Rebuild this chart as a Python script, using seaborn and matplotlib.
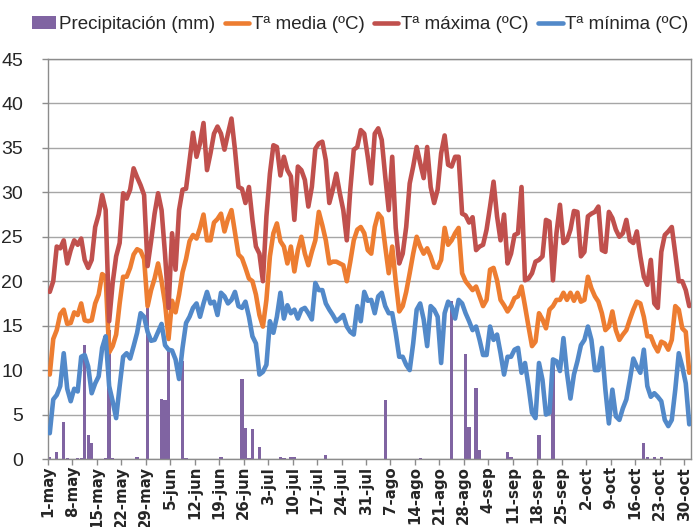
import numpy as np
import pandas as pd
import matplotlib
matplotlib.use("Agg")
import matplotlib.pyplot as plt
import seaborn as sns
from matplotlib.lines import Line2D
from matplotlib.patches import Patch

# ---------------- data (daily, 1-may .. 31-oct) ----------------
tick_labels = ["1-may", "8-may", "15-may", "22-may", "29-may", "5-jun", "12-jun",
               "19-jun", "26-jun", "3-jul", "10-jul", "17-jul", "24-jul", "31-jul",
               "7-ago", "14-ago", "21-ago", "28-ago", "4-sep", "11-sep", "18-sep",
               "25-sep", "2-oct", "9-oct", "16-oct", "23-oct", "30-oct"]

t_max = [
    18.8, 20.0, 23.9, 23.7, 24.6, 22.0, 23.5, 24.6, 24.1, 24.8,
    22.4, 21.5, 22.4, 26.1, 27.5, 29.7, 28.0, 15.5, 19.8, 22.8,
    24.3, 29.9, 29.3, 30.3, 32.7, 31.7, 30.8, 29.7, 21.7, 24.5,
    27.6, 29.9, 28.0, 23.0, 17.0, 25.4, 21.3, 28.0, 30.3, 30.4,
    33.6, 36.7, 34.0, 35.5, 37.8, 32.5, 34.4, 36.6, 37.4, 36.6,
    34.8, 36.6, 38.3, 34.8, 30.6, 30.4, 28.8, 30.6, 26.9, 23.9,
    23.1, 20.0, 27.3, 32.1, 35.3, 35.1, 31.9, 34.0, 32.5, 31.8,
    26.9, 32.9, 32.5, 31.4, 28.4, 30.6, 34.9, 35.5, 35.7, 33.6,
    28.8, 30.3, 32.1, 29.9, 28.0, 24.6, 30.3, 34.8, 35.1, 37.0,
    36.6, 34.0, 31.0, 36.6, 37.2, 35.9, 31.8, 28.0, 34.0, 26.0,
    22.0, 23.1, 26.1, 31.0, 32.9, 35.1, 33.3, 31.6, 35.1, 30.6,
    28.8, 30.3, 34.4, 36.4, 33.1, 32.9, 34.0, 34.0, 27.6, 27.4,
    26.6, 27.2, 23.5, 23.9, 24.1, 25.8, 28.4, 31.2, 27.3, 24.6,
    27.5, 22.0, 23.1, 25.2, 25.4, 30.6, 20.1, 20.3, 20.9, 22.2,
    22.4, 22.8, 26.9, 26.7, 20.1, 25.4, 28.6, 24.3, 24.6, 25.8,
    27.9, 27.8, 22.8, 23.3, 27.3, 27.6, 27.8, 28.4, 23.5, 23.3,
    27.8, 27.1, 25.8, 25.0, 25.4, 26.9, 24.6, 24.3, 25.6, 22.8,
    20.5, 19.6, 22.4, 17.5, 17.0, 23.3, 25.2, 25.6, 26.1, 23.1,
    20.0, 20.0, 19.0, 17.2]

t_media = [
    9.5, 13.5, 14.5, 16.3, 16.8, 15.2, 15.3, 16.5, 16.2, 17.5,
    15.6, 15.5, 15.6, 17.5, 18.5, 20.8, 20.5, 12.0, 12.7, 14.0,
    17.5, 20.5, 20.5, 21.5, 23.0, 23.6, 23.4, 22.5, 17.2, 19.0,
    20.3, 22.0, 20.0, 17.5, 13.5, 17.8, 16.5, 18.5, 21.0, 22.5,
    24.5, 25.2, 24.8, 26.0, 27.5, 24.6, 24.6, 26.6, 27.0, 27.6,
    25.6, 27.0, 28.0, 25.5, 23.0, 22.6, 21.5, 20.3, 20.0, 18.5,
    16.2, 14.9, 17.9, 22.8, 25.4, 26.5, 24.5, 23.9, 22.0, 23.9,
    21.1, 23.5, 25.0, 23.1, 21.8, 23.3, 24.6, 27.8, 26.3, 24.6,
    22.0, 22.2, 22.2, 22.0, 21.8, 20.0, 22.2, 24.6, 25.8, 26.1,
    25.4, 23.5, 23.1, 26.1, 27.6, 27.1, 23.9, 20.9, 23.9, 20.0,
    16.6, 17.2, 18.8, 20.9, 23.1, 25.0, 23.9, 23.1, 23.7, 22.8,
    21.6, 21.5, 22.4, 26.0, 24.1, 24.6, 25.4, 26.0, 20.9, 20.0,
    19.5, 19.0, 19.4, 18.3, 17.2, 17.9, 21.3, 21.5, 20.1, 17.9,
    17.3, 16.6, 17.2, 18.1, 18.3, 19.4, 17.2, 14.9, 12.7, 13.2,
    16.4, 15.7, 14.7, 16.8, 17.2, 17.9, 17.9, 18.7, 17.9, 18.7,
    17.8, 18.7, 17.7, 17.9, 20.5, 19.2, 18.3, 17.7, 16.4, 14.5,
    14.9, 16.6, 14.5, 13.4, 14.0, 14.5, 15.7, 16.8, 17.7, 17.5,
    16.0, 13.8, 13.8, 12.8, 12.1, 13.2, 13.0, 12.3, 13.4, 17.2,
    16.8, 14.7, 14.3, 9.7]

t_min = [
    2.9, 6.7, 7.2, 8.2, 11.9, 7.9, 6.5, 7.9, 7.6, 11.5,
    11.7, 10.4, 7.4, 8.5, 9.3, 12.5, 13.8, 8.2, 6.5, 4.6,
    8.2, 11.5, 11.9, 11.3, 12.7, 14.2, 16.4, 16.0, 14.3, 13.3,
    13.4, 14.3, 15.2, 12.8, 12.3, 12.2, 11.2, 9.0, 12.5, 15.3,
    16.0, 17.0, 17.5, 16.0, 17.5, 18.8, 17.5, 17.7, 16.2, 18.7,
    18.3, 17.5, 17.9, 18.8, 17.2, 17.0, 17.7, 16.0, 13.8, 13.0,
    9.5, 9.8, 10.6, 15.5, 14.2, 16.0, 18.7, 15.8, 17.3, 16.4,
    16.8, 15.8, 16.8, 17.0, 16.4, 15.7, 19.8, 19.0, 19.0, 17.5,
    16.8, 16.2, 15.5, 15.8, 16.2, 14.9, 14.3, 14.0, 17.2, 15.5,
    18.8, 17.8, 17.9, 16.4, 18.3, 18.7, 17.2, 16.4, 16.4, 14.2,
    11.5, 11.5, 10.6, 10.0, 13.0, 16.8, 17.5, 15.7, 12.7, 17.2,
    16.8, 16.0, 10.8, 16.4, 17.7, 17.2, 15.8, 17.9, 17.5, 16.4,
    15.5, 14.5, 14.9, 13.4, 11.7, 11.7, 14.9, 13.4, 14.0, 11.9,
    9.5, 11.5, 11.5, 12.3, 12.5, 9.7, 10.8, 8.2, 5.2, 4.6,
    10.8, 8.9, 5.0, 5.2, 11.2, 11.0, 9.9, 13.6, 9.7, 6.8,
    9.5, 11.0, 12.8, 13.4, 14.9, 13.4, 10.0, 10.0, 12.5, 7.8,
    4.0, 7.8, 4.8, 4.4, 5.7, 6.7, 8.9, 11.3, 10.4, 9.7,
    12.3, 8.2, 7.0, 7.4, 7.0, 6.5, 4.4, 3.7, 4.4, 7.8,
    11.9, 10.4, 8.5, 3.9]

# rainy days (day index from 1-may) and amount in mm
precip_days = [0, 2, 4, 5, 8, 9, 10, 11, 12, 16,
               17, 18, 25, 28, 32, 33, 34, 38, 39, 49,
               55, 56, 57, 58, 60, 66, 67, 69, 70, 79,
               96, 106, 115, 119, 120, 122, 123, 131, 132, 140,
               144, 170, 171, 173, 175]
precip_mm = [0.2, 0.8, 4.2, 0.1, 0.1, 0.1, 12.8, 2.7, 1.8, 0.1,
             14.5, 0.1, 0.2, 17.0, 6.8, 6.6, 12.5, 11.0, 0.1, 0.2,
             9.0, 3.5, 0.1, 3.4, 1.4, 0.2, 0.1, 0.2, 0.2, 0.4,
             6.6, 0.15, 17.8, 11.8, 3.6, 8.0, 1.0, 0.8, 0.2, 2.7,
             11.0, 1.8, 0.2, 0.2, 0.2]

series_names = ["Precipitación (mm)", "Tª media (ºC)", "Tª máxima (ºC)", "Tª mínima (ºC)"]
colors = ["#8064A2", "#ED7D31", "#C0504D", "#5289C9"]

# ---------------- build table ----------------
n_days = len(t_max)
day = np.arange(n_days)
precip = np.zeros(n_days)
precip[precip_days] = precip_mm
df = pd.DataFrame({"day": day, "precip": precip, "media": t_media,
                   "maxima": t_max, "minima": t_min})

# ---------------- style ----------------
sns.set_theme(style="white")
plt.rcParams["font.family"] = ["Liberation Sans Narrow", "Liberation Sans", "DejaVu Sans"]

fig = plt.figure(figsize=(6.93, 5.27), dpi=100)
ax = fig.add_axes([48 / 693, 68 / 527, 643 / 693, 400 / 527])
ax.set_axisbelow(True)

sns.barplot(data=df, x="day", y="precip", native_scale=True, width=0.95,
            color=colors[0], saturation=1, errorbar=None, ax=ax, zorder=1,
            edgecolor="none", linewidth=0)
for col, c in zip(["media", "maxima", "minima"], colors[1:]):
    sns.lineplot(data=df, x="day", y=col, color=c, linewidth=3.3, ax=ax,
                 zorder=3, solid_joinstyle="round", solid_capstyle="round")

ax.set_xlim(-0.5, n_days - 0.5)
ax.set_ylim(0, 45)
ax.set_yticks(range(0, 46, 5))
ax.set_xticks(np.arange(0, 7 * len(tick_labels), 7) - 0.5)
ax.set_xticklabels(tick_labels, rotation=90, fontsize=10.8,
                   fontfamily=["DejaVu Sans"], fontweight="bold")
ax.set_xlabel("")
ax.set_ylabel("")

ax.yaxis.grid(True, color="#A6A6A6", linewidth=1.0)
ax.xaxis.grid(False)
for sp in ax.spines.values():
    sp.set_visible(True)
    sp.set_color("#8C8C8C")
    sp.set_linewidth(1.0)

ax.tick_params(axis="x", direction="out", length=4, width=1, color="#8C8C8C",
               pad=1, bottom=True)
ax.tick_params(axis="y", direction="out", length=4, width=1, color="#8C8C8C",
               pad=14, labelsize=14, left=True)

handles = [Patch(facecolor=colors[0], edgecolor="none")] + \
          [Line2D([0], [0], color=c, linewidth=3.3) for c in colors[1:]]
fig.legend(handles, series_names, loc="center", bbox_to_anchor=(0.52, 0.953),
           ncol=4, frameon=False, fontsize=13.5, handlelength=1.3,
           handletextpad=0.15, columnspacing=0.5, borderaxespad=0)

fig.savefig("out.png", dpi=100)
